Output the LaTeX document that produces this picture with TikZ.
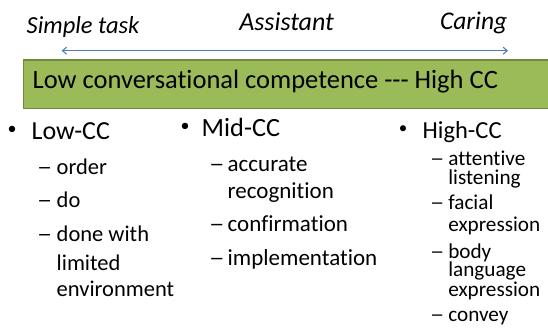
\documentclass[tikz,border=0pt]{standalone}
\usepackage{fontspec}
\setmainfont{Carlito}[Ligatures={NoCommon}]
\usetikzlibrary{arrows.meta}
\definecolor{boxgreen}{HTML}{9BBB59}
\definecolor{boxedge}{HTML}{71893F}
\definecolor{arrowblue}{HTML}{4A7EBB}
\newcommand{\longdash}{\scalebox{1.35}[1]{–}}
\tikzset{
  txt/.style={anchor=base west, inner sep=0pt, outer sep=0pt, text=black},
  toplbl/.style={txt, font=\fontsize{#1}{#1}\selectfont\itshape},
  head/.style={txt, font=\fontsize{#1}{#1}\selectfont},
  sub/.style={txt, font=\fontsize{#1}{#1}\selectfont},
  bul/.style={anchor=center, inner sep=0pt, font=\fontsize{#1}{#1}\selectfont},
  greenbox/.style={fill=boxgreen, draw=boxedge, line width=1.5pt},
  scalearrow/.style={draw=arrowblue, line width=1.1pt, {Straight Barb[length=4pt,width=7pt]}-{Straight Barb[length=4pt,width=7pt]}}
}
\begin{document}
\begin{tikzpicture}[x=1pt,y=-1pt]
\useasboundingbox (0,0) rectangle (548,330);
\fill[white] (0,0) rectangle (548,330);

% top labels
\node[toplbl=24.5] (simple) at (26.7,33.3) {Simple task};
\node[toplbl=26] (assist) at (239.3,30.7) {Assistant};
\node[toplbl=25.5] (caring) at (440,29.3) {Caring};

% scale arrow
\coordinate (aL) at (61.7,50.7);
\coordinate (aR) at (508,50.7);
\draw[scalearrow] (aL) -- (aR);

% green band
\path[greenbox] (23.3,60) rectangle (552,108.3);
\node[head=26.5] (band) at (32.7,88.3) {Low conversational competence -{}-{}- High CC};

% Low-CC column
\node[bul=18] (b1) at (12,130.7) {•};
\node[head=26] (low) at (31.7,139.3) {Low-CC};
\node[sub=22.5] (d11) at (37,174.3) {\longdash};
\node[sub=22.5] (l1) at (56.7,174.3) {order};
\node[sub=22.5] (d12) at (37,207.7) {\longdash};
\node[sub=22.5] (l2) at (56.7,207.7) {do};
\node[sub=22.5] (d13) at (37,241.7) {\longdash};
\node[sub=22.5] (l3) at (56.7,241.7) {done with};
\node[sub=22.5] (l3b) at (56.7,270) {limited};
\node[sub=22.5] (l3c) at (56.7,296.7) {environment};

% Mid-CC column
\node[bul=18] (b2) at (185,127) {•};
\node[head=26.3] (mid) at (201.7,136) {Mid-CC};
\node[sub=23] (d21) at (209,171.7) {\longdash};
\node[sub=23] (m1) at (227.7,171.7) {accurate};
\node[sub=23] (m1b) at (227.7,198.3) {recognition};
\node[sub=23] (d22) at (209,231.7) {\longdash};
\node[sub=23] (m2) at (227.7,231.7) {confirmation};
\node[sub=23] (d23) at (209,265) {\longdash};
\node[sub=23] (m3) at (227.7,265) {implementation};

% High-CC column
\node[bul=17] (b3) at (403,129.5) {•};
\node[head=24.5] (high) at (422.7,138.3) {High-CC};
\node[sub=21.2] (d31) at (430,165) {\longdash};
\node[sub=21.2] (h1) at (448.3,165) {attentive};
\node[sub=21.2] (h1b) at (448.3,184) {listening};
\node[sub=21.2] (d32) at (430,209.3) {\longdash};
\node[sub=21.2] (h2) at (448.3,209.3) {facial};
\node[sub=21.2] (h2b) at (448.3,231.7) {expression};
\node[sub=21.2] (d33) at (430,258.3) {\longdash};
\node[sub=21.2] (h3) at (448.3,258.3) {body};
\node[sub=21.2] (h3b) at (448.3,276.7) {language};
\node[sub=21.2] (h3c) at (448.3,296.7) {expression};
\node[sub=21.2] (d34) at (430,321.7) {\longdash};
\node[sub=21.2] (h4) at (448.3,321.7) {convey};
\end{tikzpicture}
\end{document}
